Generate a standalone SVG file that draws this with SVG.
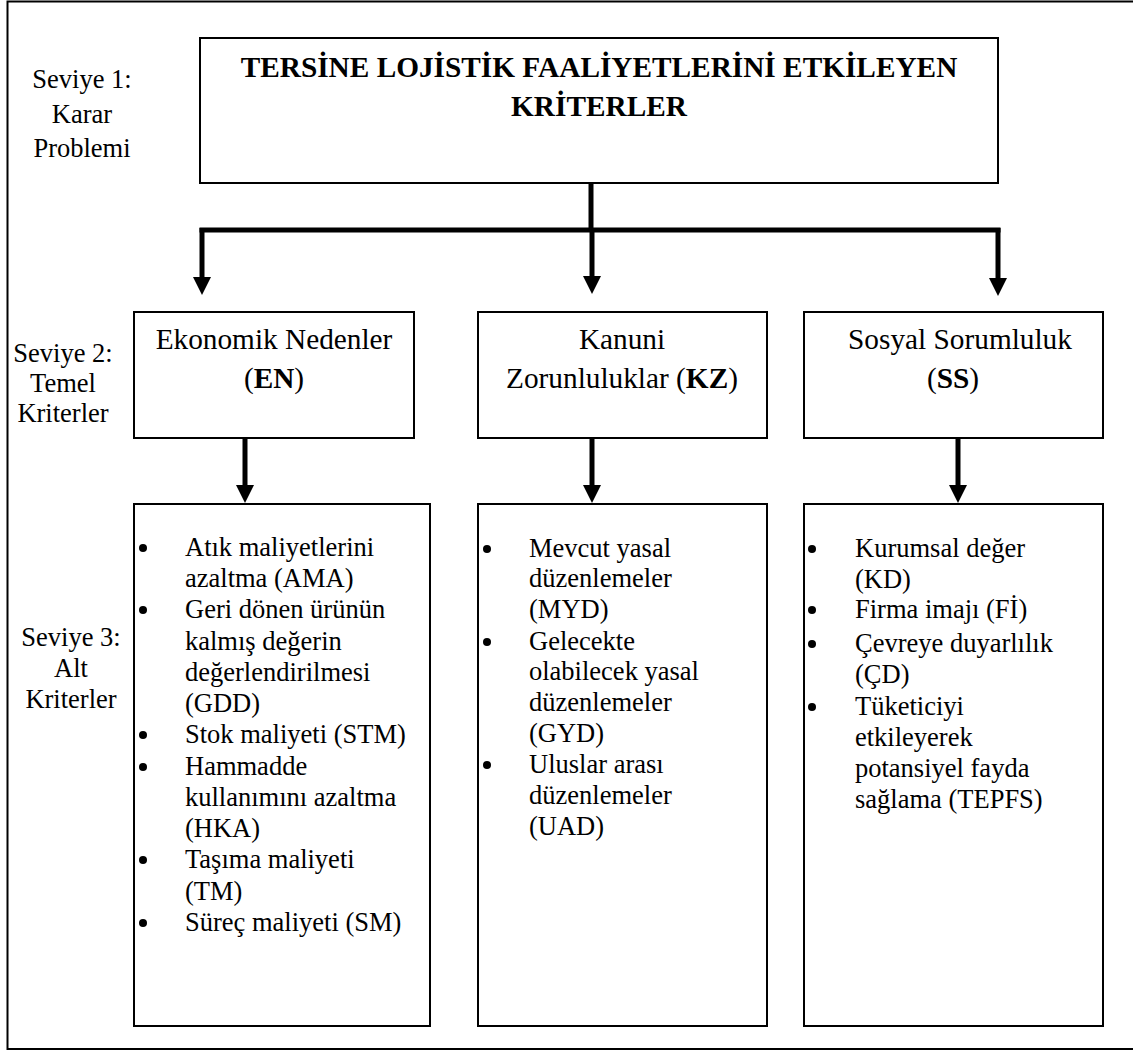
<svg xmlns="http://www.w3.org/2000/svg" width="1133" height="1055" viewBox="0 0 1133 1055">
  <style>
    .box { fill: #fff; stroke: #000; stroke-width: 2; }
    .frame { fill: none; stroke: #000; stroke-width: 2; }
    .wire { fill: none; stroke: #000; stroke-width: 5; }
    .t { font-family: "Liberation Serif", "Times New Roman", serif; fill: #000; }
    .lvl { font-size: 26.5px; text-anchor: middle; }
    .title { font-size: 29.3px; font-weight: bold; text-anchor: middle; }
    .crit { font-size: 29.3px; text-anchor: middle; }
    .item { font-size: 26.5px; }
    .b { font-weight: bold; }
  </style>
  <defs>
    <!-- solid triangular head; base sits on the end of the shaft -->
    <marker id="head" viewBox="0 0 18 18" refX="0" refY="9" markerWidth="18" markerHeight="18" markerUnits="userSpaceOnUse" orient="auto">
      <path d="M0,0 L18,9 L0,18 Z" fill="#000"/>
    </marker>
  </defs>

  <rect width="1133" height="1055" fill="#fff"/>
  <!-- outer frame -->
  <rect class="frame" x="7.5" y="1.5" width="1130" height="1047.5"/>

  <!-- level labels -->
  <g id="level-labels" class="t lvl">
    <text x="82" y="88">Seviye 1:</text>
    <text x="82" y="123">Karar</text>
    <text x="82" y="157">Problemi</text>
    <text x="63" y="362">Seviye 2:</text>
    <text x="63" y="392">Temel</text>
    <text x="63" y="422">Kriterler</text>
    <text x="71" y="646">Seviye 3:</text>
    <text x="71" y="677">Alt</text>
    <text x="71" y="708">Kriterler</text>
  </g>

  <!-- level 1 -->
  <g id="goal">
    <rect class="box" x="200" y="38" width="798" height="145"/>
    <text class="t title" x="599" y="77">TERSİNE LOJİSTİK FAALİYETLERİNİ ETKİLEYEN</text>
    <text class="t title" x="599" y="116">KRİTERLER</text>
  </g>

  <!-- level 2 -->
  <g id="en">
    <rect class="box" x="134" y="312" width="280" height="126"/>
    <text class="t crit" x="274" y="349">Ekonomik Nedenler</text>
    <text class="t crit" x="274" y="388">(<tspan class="b">EN</tspan>)</text>
  </g>
  <g id="kz">
    <rect class="box" x="478" y="312" width="289" height="126"/>
    <text class="t crit" x="622" y="349">Kanuni</text>
    <text class="t crit" x="622" y="388">Zorunluluklar (<tspan class="b">KZ</tspan>)</text>
  </g>
  <g id="ss">
    <rect class="box" x="804" y="312" width="299" height="126"/>
    <text class="t crit" x="960" y="349">Sosyal Sorumluluk</text>
    <text class="t crit" x="953" y="388">(<tspan class="b">SS</tspan>)</text>
  </g>

  <!-- level 3 -->
  <g id="en-sub" class="t item">
    <rect class="box" x="134" y="504" width="296" height="522"/>
    <g fill="#000">
      <circle cx="143" cy="548" r="4"/>
      <circle cx="143" cy="610" r="4"/>
      <circle cx="143" cy="735" r="4"/>
      <circle cx="143" cy="767" r="4"/>
      <circle cx="143" cy="860" r="4"/>
      <circle cx="143" cy="923" r="4"/>
    </g>
    <text x="185" y="556">Atık maliyetlerini</text>
    <text x="185" y="587">azaltma (AMA)</text>
    <text x="185" y="618">Geri dönen ürünün</text>
    <text x="185" y="650">kalmış değerin</text>
    <text x="185" y="681">değerlendirilmesi</text>
    <text x="185" y="712">(GDD)</text>
    <text x="185" y="743">Stok maliyeti (STM)</text>
    <text x="185" y="775">Hammadde</text>
    <text x="185" y="806">kullanımını azaltma</text>
    <text x="185" y="837">(HKA)</text>
    <text x="185" y="868">Taşıma maliyeti</text>
    <text x="185" y="900">(TM)</text>
    <text x="185" y="931">Süreç maliyeti (SM)</text>
  </g>
  <g id="kz-sub" class="t item">
    <rect class="box" x="478" y="504" width="289" height="522"/>
    <g fill="#000">
      <circle cx="487" cy="549" r="4"/>
      <circle cx="487" cy="642" r="4"/>
      <circle cx="487" cy="765" r="4"/>
    </g>
    <text x="529" y="557">Mevcut yasal</text>
    <text x="529" y="587">düzenlemeler</text>
    <text x="529" y="618">(MYD)</text>
    <text x="529" y="650">Gelecekte</text>
    <text x="529" y="680">olabilecek yasal</text>
    <text x="529" y="711">düzenlemeler</text>
    <text x="529" y="742">(GYD)</text>
    <text x="529" y="773">Uluslar arası</text>
    <text x="529" y="804">düzenlemeler</text>
    <text x="529" y="835">(UAD)</text>
  </g>
  <g id="ss-sub" class="t item">
    <rect class="box" x="804" y="504" width="299" height="522"/>
    <g fill="#000">
      <circle cx="812" cy="549" r="4"/>
      <circle cx="812" cy="610" r="4"/>
      <circle cx="812" cy="644" r="4"/>
      <circle cx="812" cy="707" r="4"/>
    </g>
    <text x="855" y="557">Kurumsal değer</text>
    <text x="855" y="588">(KD)</text>
    <text x="855" y="618">Firma imajı (Fİ)</text>
    <text x="855" y="652">Çevreye duyarlılık</text>
    <text x="855" y="683">(ÇD)</text>
    <text x="855" y="715">Tüketiciyi</text>
    <text x="855" y="746">etkileyerek</text>
    <text x="855" y="777">potansiyel fayda</text>
    <text x="855" y="808">sağlama (TEPFS)</text>
  </g>

  <!-- connectors -->
  <g id="connectors">
    <path class="wire" d="M591,183 V230"/>
    <path class="wire" d="M199.5,230 H1000.5"/>
    <path class="wire" d="M202,228 V277" marker-end="url(#head)"/>
    <path class="wire" d="M592,230 V276" marker-end="url(#head)"/>
    <path class="wire" d="M998,228 V278" marker-end="url(#head)"/>
    <path class="wire" d="M245,438 V485" marker-end="url(#head)"/>
    <path class="wire" d="M592,438 V485" marker-end="url(#head)"/>
    <path class="wire" d="M958,438 V485" marker-end="url(#head)"/>
  </g>
</svg>
